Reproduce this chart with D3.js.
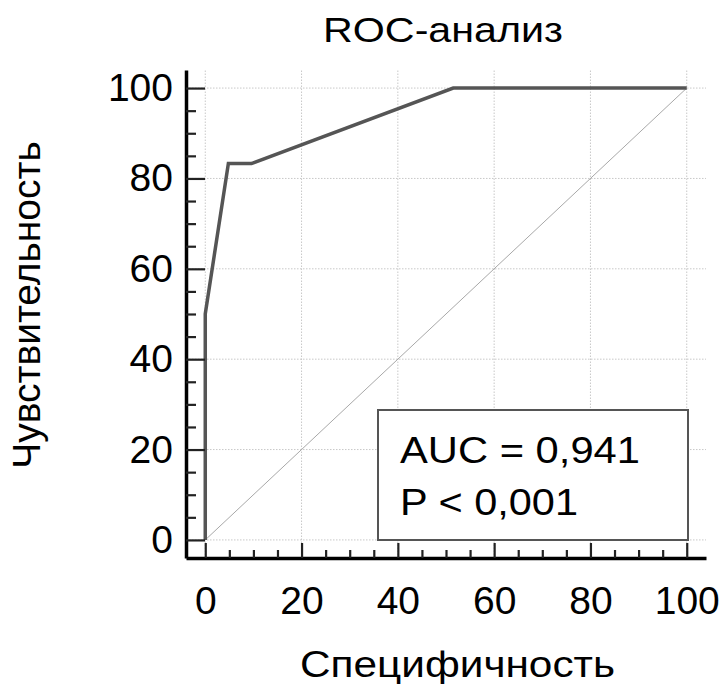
<!DOCTYPE html>
<html>
<head>
<meta charset="utf-8">
<script src="https://cdn.jsdelivr.net/npm/d3@7"></script>
<style>
    body { margin: 0; background: #fff; }
    svg { display: block; font-family: "Liberation Sans", Arial, sans-serif; }
</style>
</head>
<body>
<div id="chart"></div>
<script>
// ROC curve points (100 - specificity, sensitivity), %
const spec = [0, 0, 4.8, 9.6, 51.5, 100];
const sens = [0, 50, 83.3, 83.3, 100, 100];
const majorTicks = [0, 20, 40, 60, 80, 100];
const minorTicks = [5, 10, 15, 25, 30, 35, 45, 50, 55, 65, 70, 75, 85, 90, 95];
const legendLines = ['AUC = 0,941', 'P < 0,001'];

const width = 725;
const height = 684;

const svg = d3.select('#chart')
    .append('svg')
    .attr('width', width)
    .attr('height', height);

const x = d3.scaleLinear().domain([-4, 104]).range([186, 706]);
const y = d3.scaleLinear().domain([-4, 104]).range([558, 70]);

// grid
const grid = svg.append('g')
    .attr('stroke', '#c8c8c8')
    .attr('stroke-width', 1)
    .attr('stroke-dasharray', '1.5,1.5');

grid.selectAll('.vg')
    .data(majorTicks)
    .enter()
    .append('line')
    .attr('x1', d => x(d)).attr('x2', d => x(d))
    .attr('y1', y(-4)).attr('y2', y(104));

grid.selectAll('.hg')
    .data(majorTicks)
    .enter()
    .append('line')
    .attr('x1', x(-4)).attr('x2', x(104))
    .attr('y1', d => y(d)).attr('y2', d => y(d));

// reference diagonal
svg.append('line')
    .attr('x1', x(0)).attr('y1', y(0))
    .attr('x2', x(100)).attr('y2', y(100))
    .attr('stroke', '#a8a8a8')
    .attr('stroke-width', 1);

// ROC curve
const line = d3.line()
    .x(d => x(d[0]))
    .y(d => y(d[1]));

svg.append('path')
    .datum(spec.map((s, i) => [s, sens[i]]))
    .attr('d', line)
    .attr('fill', 'none')
    .attr('stroke', '#555')
    .attr('stroke-width', 3.5)
    .attr('stroke-linejoin', 'miter');

// axes
svg.append('g')
    .attr('transform', `translate(0,${y(-4)})`)
    .call(d3.axisBottom(x).tickValues(majorTicks).tickSize(-15).tickPadding(28).tickSizeOuter(0));

svg.append('g')
    .attr('transform', `translate(0,${y(-4)})`)
    .call(d3.axisBottom(x).tickValues(minorTicks).tickSize(-8).tickFormat(''))
    .call(g => g.select('.domain').remove());

svg.append('g')
    .attr('transform', `translate(${x(-4)},0)`)
    .call(d3.axisLeft(y).tickValues(majorTicks).tickSize(-19).tickPadding(13).tickSizeOuter(0));

svg.append('g')
    .attr('transform', `translate(${x(-4)},0)`)
    .call(d3.axisLeft(y).tickValues(minorTicks).tickSize(-10).tickFormat(''))
    .call(g => g.select('.domain').remove());

svg.selectAll('.domain')
    .attr('stroke', '#000')
    .attr('stroke-width', 3.5);

svg.selectAll('.tick line')
    .attr('stroke', '#222')
    .attr('stroke-width', 2.2);

svg.selectAll('.tick text')
    .attr('font-size', 39)
    .attr('font-family', '"Liberation Sans", Arial, sans-serif')
    .attr('fill', '#000');

// legend box
const legend = svg.append('g');

legend.append('rect')
    .attr('x', 378).attr('y', 410)
    .attr('width', 310).attr('height', 130)
    .attr('fill', '#fff')
    .attr('stroke', '#555')
    .attr('stroke-width', 2);

const legendWidths = [240, 178];

legend.selectAll('text')
    .data(legendLines)
    .enter()
    .append('text')
    .attr('x', 400)
    .attr('y', (d, i) => 463 + i * 52)
    .attr('font-size', 37)
    .attr('fill', '#000')
    .attr('textLength', (d, i) => legendWidths[i])
    .attr('lengthAdjust', 'spacingAndGlyphs')
    .text(d => d);

// titles
svg.append('text')
    .attr('x', 323).attr('y', 42)
    .attr('font-size', 35)
    .attr('textLength', 240)
    .attr('lengthAdjust', 'spacingAndGlyphs')
    .text('ROC-анализ');

svg.append('text')
    .attr('x', 300).attr('y', 677)
    .attr('font-size', 36)
    .attr('textLength', 315)
    .attr('lengthAdjust', 'spacingAndGlyphs')
    .text('Специфичность');

svg.append('text')
    .attr('transform', 'translate(40,305) rotate(-90)')
    .attr('text-anchor', 'middle')
    .attr('font-size', 39)
    .text('Чувствительность');
</script>
</body>
</html>
